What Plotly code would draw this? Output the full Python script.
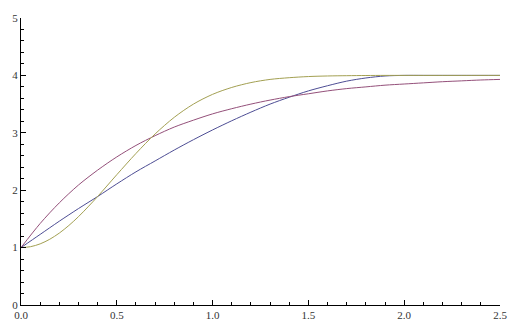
import plotly.graph_objects as go

x_vals = [0.0, 0.1, 0.2, 0.3, 0.4, 0.5, 0.6, 0.7, 0.8, 0.9, 1.0, 1.1, 1.2, 1.3,
          1.4, 1.5, 1.6, 1.7, 1.8, 1.9, 2.0, 2.1, 2.2, 2.3, 2.4, 2.5]

blue_vals = [1.00, 1.23, 1.46, 1.68, 1.89, 2.11, 2.32, 2.51, 2.70, 2.88, 3.05,
             3.21, 3.36, 3.50, 3.62, 3.73, 3.82, 3.90, 3.955, 3.99, 4.00,
             4.00, 4.00, 4.00, 4.00, 4.00]

purple_vals = [1.00, 1.42, 1.78, 2.09, 2.35, 2.58, 2.78, 2.95, 3.10, 3.22, 3.33,
               3.42, 3.50, 3.57, 3.63, 3.68, 3.73, 3.77, 3.80, 3.83, 3.85,
               3.87, 3.89, 3.905, 3.92, 3.93]

green_x = [0.0, 0.05, 0.1, 0.15, 0.2, 0.25, 0.3, 0.35, 0.4, 0.5, 0.6, 0.7, 0.8,
           0.9, 1.0, 1.1, 1.2, 1.3, 1.4, 1.5, 1.6, 1.7, 1.8, 1.9, 2.0, 2.1,
           2.2, 2.3, 2.4, 2.5]
green_vals = [1.00, 1.016, 1.065, 1.145, 1.253, 1.386, 1.539, 1.71, 1.89, 2.27,
              2.64, 2.98, 3.27, 3.50, 3.67, 3.79, 3.875, 3.93, 3.96, 3.98, 3.99,
              3.995, 3.998, 4.00, 4.00, 4.00, 4.00, 4.00, 4.00, 4.00]

x_ticks = [0.0, 0.5, 1.0, 1.5, 2.0, 2.5]
x_tick_labels = ["0.0", "0.5", "1.0", "1.5", "2.0", "2.5"]
y_ticks = [0, 1, 2, 3, 4, 5]
y_tick_labels = ["0", "1", "2", "3", "4", "5"]

fig = go.Figure()
series = [
    (x_vals, blue_vals, "#4d4d94"),
    (x_vals, purple_vals, "#94507a"),
    (green_x, green_vals, "#a3a052"),
]
for xs, vals, col in series:
    fig.add_trace(go.Scatter(x=xs, y=vals, mode="lines",
                             line=dict(color=col, width=1, shape="spline", smoothing=0.9),
                             showlegend=False, hoverinfo="skip"))

tick_font = dict(family="Liberation Serif", size=11, color="#333333")
fig.update_layout(
    width=519, height=333,
    margin=dict(l=16, r=19, t=12, b=22),
    paper_bgcolor="white", plot_bgcolor="white",
    xaxis=dict(range=[0, 2.5], tickmode="array", tickvals=x_ticks, ticktext=x_tick_labels,
               showline=True, linecolor="black", linewidth=1, showgrid=False, zeroline=False,
               ticks="inside", ticklen=5, tickcolor="black", tickfont=tick_font,
               minor=dict(ticks="inside", dtick=0.1, ticklen=3, tickcolor="black", showgrid=False)),
    yaxis=dict(range=[0, 5], tickmode="array", tickvals=y_ticks, ticktext=y_tick_labels,
               showline=True, linecolor="black", linewidth=1, showgrid=False, zeroline=False,
               ticks="inside", ticklen=5, tickcolor="black", tickfont=tick_font,
               minor=dict(ticks="inside", dtick=0.2, ticklen=3, tickcolor="black", showgrid=False)),
)

fig.write_html("out.html")
